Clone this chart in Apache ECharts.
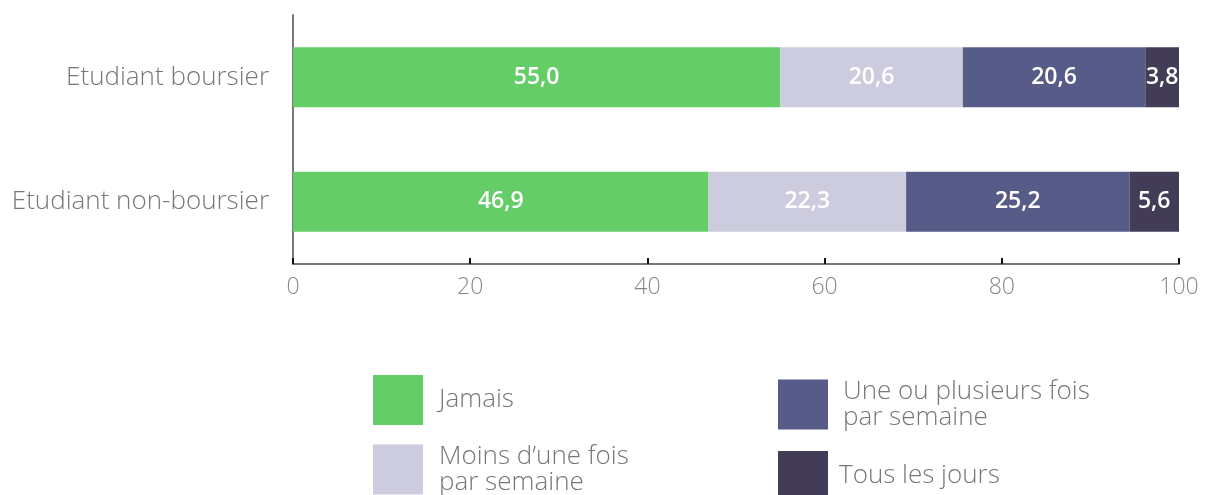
<!DOCTYPE html>
<html>
<head>
<meta charset="utf-8">
<script src="https://cdn.jsdelivr.net/npm/echarts@6/dist/echarts.min.js"></script>
<style>
  html, body { margin: 0; padding: 0; background: #fff; }
  #chart { width: 1221px; height: 495px; }
</style>
</head>
<body>
<div id="chart"></div>
<script>
const categories = ["Etudiant boursier", "Etudiant non-boursier"];
const seriesNames = ["Jamais", "Moins d\u2019une fois\npar semaine", "Une ou plusieurs fois\npar semaine", "Tous les jours"];
const jamais = [55.0, 46.9];
const moinsUneFois = [20.6, 22.3];
const plusieursFois = [20.6, 25.2];
const tousLesJours = [3.8, 5.6];
const xTicks = [0, 20, 40, 60, 80, 100];

const colors = ["#65cd67", "#cdccde", "#575b87", "#423c56"];
const values = [jamais, moinsUneFois, plusieursFois, tousLesJours];
const font = "Open Sans";

const chart = echarts.init(document.getElementById("chart"));

// one legend per item so the 2x2 layout can be placed like the original
const legendPos = [
    {left: 373, top: 375, gap: 11, drop: 8},
    {left: 373, top: 442, gap: 11, drop: 3},
    {left: 778, top: 377, gap: 10, drop: 3},
    {left: 778, top: 451, gap: 6, drop: 12}
];

const option = {
    animation: false,
    grid: {left: 293, right: 42, top: 15, bottom: 231, containLabel: false},
    xAxis: {
        type: "value",
        min: 0,
        max: 100,
        interval: 20,
        axisLine: {show: true, lineStyle: {color: "#777", width: 2}},
        axisTick: {show: true, inside: true, length: 6, lineStyle: {color: "#111", width: 2}},
        splitLine: {show: false},
        axisLabel: {
            color: "#888", fontSize: 23, fontFamily: font, fontWeight: 300, margin: 12,
            formatter: v => xTicks.includes(v) ? String(v) : ""
        }
    },
    yAxis: {
        type: "category",
        inverse: true,
        data: categories,
        axisLine: {show: true, lineStyle: {color: "#777", width: 2}},
        axisTick: {show: false},
        axisLabel: {color: "#777", fontSize: 26, fontFamily: font, fontWeight: 300, margin: 24}
    },
    legend: seriesNames.map((name, i) => ({
        data: [name],
        left: legendPos[i].left,
        top: legendPos[i].top,
        padding: 0,
        icon: "rect",
        itemWidth: 50,
        itemHeight: 50,
        itemGap: 0,
        selectedMode: false,
        textStyle: {
            color: "#777", fontSize: 26, fontFamily: font, fontWeight: 300, lineHeight: 26,
            padding: [legendPos[i].drop, 0, 0, legendPos[i].gap]
        }
    })),
    series: seriesNames.map((name, i) => ({
        name: name,
        type: "bar",
        stack: "total",
        barWidth: "48%",
        itemStyle: {color: colors[i]},
        label: {
            show: true,
            position: "inside",
            color: "#fff",
            fontSize: 23,
            fontWeight: 600,
            fontFamily: font,
            formatter: p => p.value.toFixed(1).replace(".", ",")
        },
        data: values[i]
    }))
};

chart.setOption(option);
</script>
</body>
</html>
